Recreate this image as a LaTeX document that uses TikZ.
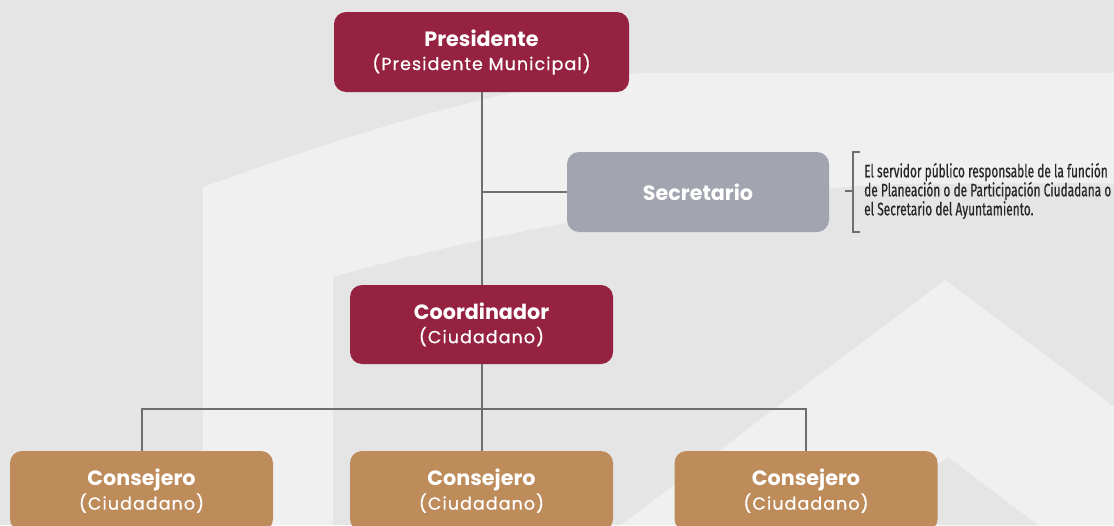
\documentclass[tikz,border=0pt]{standalone}
\usepackage{fontspec}
\setmainfont{Poppins}
\newfontfamily\subfont[LetterSpace=6, FakeBold=0.6]{Poppins}
\newfontfamily\notefont[FakeStretch=0.66, FakeBold=0.5]{Fira Sans}
\usetikzlibrary{positioning}
\definecolor{vino}{HTML}{962242}
\definecolor{gris}{HTML}{A2A5AF}
\definecolor{ocre}{HTML}{BE8B5B}
\definecolor{linea}{HTML}{6E6E6E}
\definecolor{fondo}{HTML}{E5E5E5}
\definecolor{claro}{HTML}{F0F0F0}
\newcommand{\cargo}[1]{{\fontsize{20.7}{24}\selectfont\bfseries #1}}
\newcommand{\detalle}[1]{{\subfont\fontsize{17.5}{24}\selectfont #1}}
\tikzstyle{puesto} = [rectangle, rounded corners=12pt, inner sep=0pt, text=white, align=center,
                      font=\fontsize{17.5}{24}\selectfont]
\tikzstyle{rojo} = [puesto, fill=vino, minimum width=295pt, minimum height=80pt]
\tikzstyle{plata} = [puesto, fill=gris, minimum width=262pt, minimum height=80pt]
\tikzstyle{dorado} = [puesto, fill=ocre, minimum width=263pt, minimum height=80pt]
\tikzstyle{link} = [draw=linea, line width=2pt]

\begin{document}
\begin{tikzpicture}[x=1pt, y=-1pt]
  \useasboundingbox (0,0) rectangle (1114,525);
  % fondo
  \fill[fondo] (0,0) rectangle (1114,525);
  \fill[claro] (203,525) -- (203,187) .. controls (350,135) and (500,85) .. (640,73)
    -- (1114,73) -- (1114,525) -- cycle;
  \fill[fondo] (333,525) -- (333,277) .. controls (480,235) and (700,192) .. (900,184)
    -- (1114,183) -- (1114,525) -- cycle;
  \fill[claro] (621,525) -- (945,280) -- (1114,407) -- (1114,525) -- cycle;
  \fill[fondo] (858,525) -- (948,457) -- (1038,525) -- cycle;

  \node (pres) [rojo] at (481.5, 52) {\cargo{Presidente}\\\detalle{(Presidente Municipal)}};
  \node (secr) [plata] at (698, 192) {\cargo{Secretario}};
  \node (coord) [rojo, minimum width=263pt, minimum height=79pt] at (481.5, 324.5)
    {\cargo{Coordinador}\\\detalle{(Ciudadano)}};
  \node (cons1) [dorado] at (141.5, 491) {\cargo{Consejero}\\\detalle{(Ciudadano)}};
  \node (cons2) [dorado] at (481.5, 491) {\cargo{Consejero}\\\detalle{(Ciudadano)}};
  \node (cons3) [dorado] at (806, 491) {\cargo{Consejero}\\\detalle{(Ciudadano)}};

  \coordinate (split) at (481.5, 409);
  \path [link] (pres) -- (coord);
  \path [link] (secr.west) -- (secr.west -| pres.south);
  \path [link] (coord) -- (cons2);
  \path [link] (cons1.north) |- (split) -| (cons3.north);

  % nota del secretario
  \node (nota) [anchor=west, align=left, text=black!85, inner sep=0pt,
    font=\notefont\fontsize{18}{19}\selectfont] at (864, 191)
    {El servidor público responsable de la función\\
     de Planeación o de Participación Ciudadana o\\
     el Secretario del Ayuntamiento.};
  \coordinate (brtop) at (860, 152);
  \coordinate (brbot) at (860, 232);
  \coordinate (brtick) at (845, 191);
  \draw [draw=linea, line width=1.3pt] (brtop) -- ++(-7,0) |- (brbot);
  \draw [draw=linea, line width=1.3pt] (brtick) -- ++(8,0);
\end{tikzpicture}
\end{document}
